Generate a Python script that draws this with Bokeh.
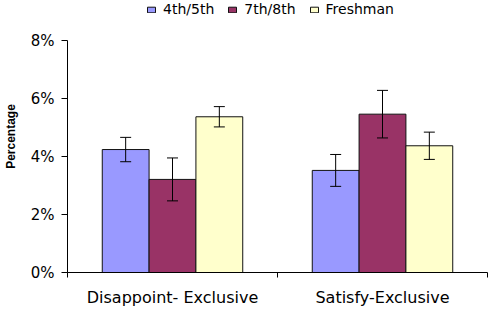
from bokeh.plotting import figure
from bokeh.models import (ColumnDataSource, Range1d, FixedTicker, Whisker, TeeHead,
                          Legend, LegendItem)
from bokeh.transform import dodge
from bokeh.embed import file_html
from bokeh.resources import INLINE

# Data (percent)
categories = ["Disappoint- Exclusive", "Satisfy-Exclusive"]
groups = ["4th/5th", "7th/8th", "Freshman"]
grade_45 = [4.24, 3.52]
grade_78 = [3.21, 5.46]
freshman = [5.37, 4.37]
err_45 = [0.42, 0.55]
err_78 = [0.74, 0.82]
err_fr = [0.35, 0.47]
y_ticks = [0, 2, 4, 6, 8]
y_tick_labels = ["0%", "2%", "4%", "6%", "8%"]

colors = ["#9999FF", "#993366", "#FFFFCC"]
offsets = [-0.223, 0.0, 0.223]
bar_w = 0.223

FONT = "DejaVu Sans"

p = figure(width=490, height=312, output_backend="svg", toolbar_location=None,
           x_range=Range1d(0, 2), y_range=Range1d(0, 8 * 272 / 232),
           min_border_left=66, min_border_right=3, min_border_top=0,
           min_border_bottom=40)
p.outline_line_color = None
p.xgrid.visible = False
p.ygrid.visible = False
p.background_fill_color = "white"
p.border_fill_color = "white"

xs = [i + 0.5 for i in range(len(categories))]
series = [grade_45, grade_78, freshman]
errors = [err_45, err_78, err_fr]

items = []
for name, vals, errs, col, off in zip(groups, series, errors, colors, offsets):
    src = ColumnDataSource(dict(
        x=xs, top=vals,
        upper=[v + e for v, e in zip(vals, errs)],
        lower=[v - e for v, e in zip(vals, errs)],
    ))
    r = p.vbar(x=dodge("x", off, range=p.x_range), top="top", width=bar_w,
               bottom=0, source=src, fill_color=col, line_color="#111111",
               line_width=1)
    w = Whisker(source=src, base=dodge("x", off, range=p.x_range),
                upper="upper", lower="lower", line_color="black", line_width=1,
                level="overlay",
                upper_head=TeeHead(size=11, line_color="black", line_width=1),
                lower_head=TeeHead(size=11, line_color="black", line_width=1))
    p.add_layout(w)
    items.append(LegendItem(label=name, renderers=[r]))

# x axis: labels centered in each category, ticks at category boundaries
xa = p.xaxis[0]
xa.ticker = FixedTicker(ticks=xs, minor_ticks=[0, 1, 2])
xa.major_label_overrides = {x: c for x, c in zip(xs, categories)}
xa.major_tick_out = 0
xa.major_tick_in = 0
xa.minor_tick_out = 5
xa.minor_tick_in = 0
xa.minor_tick_line_color = "black"
xa.axis_line_color = "black"
xa.major_label_text_font = FONT
xa.major_label_text_font_size = "16px"
xa.major_label_text_color = "black"
xa.major_label_standoff = 10

ya = p.yaxis[0]
ya.bounds = (0, 8)
ya.ticker = FixedTicker(ticks=y_ticks, minor_ticks=[])
ya.major_label_overrides = {t: s for t, s in zip(y_ticks, y_tick_labels)}
ya.major_tick_out = 6
ya.major_tick_in = 0
ya.axis_line_color = "black"
ya.major_tick_line_color = "black"
ya.major_label_text_font = FONT
ya.major_label_text_font_size = "15px"
ya.major_label_text_color = "black"
ya.major_label_standoff = 7
ya.axis_label = "Percentage"
ya.axis_label_text_font = "Liberation Sans"
ya.axis_label_text_font_style = "bold"
ya.axis_label_text_font_size = "12px"
ya.axis_label_text_color = "black"
ya.axis_label_standoff = 10

legend = Legend(items=items, orientation="horizontal", location=(79, 255),
                padding=0, margin=0, spacing=13, label_standoff=7,
                glyph_width=10, glyph_height=7,
                border_line_color=None, background_fill_alpha=0,
                label_text_font=FONT, label_text_font_size="14px",
                label_text_color="black")
p.add_layout(legend)

open("out.html", "w").write(file_html(p, INLINE))
